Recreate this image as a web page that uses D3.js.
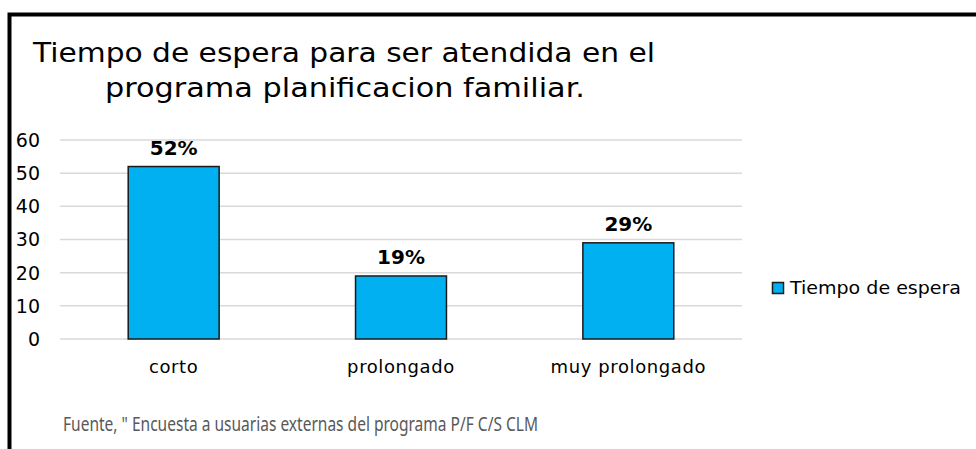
<!DOCTYPE html>
<html>
<head>
<meta charset="utf-8">
<script src="https://cdn.jsdelivr.net/npm/d3@7"></script>
<style>
  html, body { margin: 0; padding: 0; background: #fff; }
  svg { display: block; font-family: "Century Gothic", "DejaVu Sans", sans-serif; }
</style>
</head>
<body>
<div id="chart"></div>
<script>
// datos
const categorias = ["corto", "prolongado", "muy prolongado"]
const valores = [52, 19, 29]
const etiquetas = ["52%", "19%", "29%"]
const ticksY = [0, 10, 20, 30, 40, 50, 60]
const serie = "Tiempo de espera"
const titulo = ["Tiempo de espera para ser atendida en el", "programa planificacion familiar."]
const fuente = "Fuente, \" Encuesta a usuarias externas del programa P/F C/S CLM"

let width = 976, height = 449
let plot = { left: 60, right: 742, top: 140, bottom: 339 }

let svg = d3.select("#chart")
    .append("svg")
    .attr("width", width)
    .attr("height", height)

//marco negro (solo arriba e izquierda)
svg.append("path")
    .attr("d", "M9.5,449 L9.5,14.5 L976,14.5")
    .attr("fill", "none")
    .attr("stroke", "#000")
    .attr("stroke-width", 4)

//titulo
svg.append("text")
    .attr("x", 33)
    .attr("y", 62)
    .attr("font-size", 26)
    .attr("textLength", 622)
    .attr("lengthAdjust", "spacingAndGlyphs")
    .attr("fill", "#000")
    .text(titulo[0])
svg.append("text")
    .attr("x", 105)
    .attr("y", 97)
    .attr("font-size", 26)
    .attr("textLength", 480)
    .attr("lengthAdjust", "spacingAndGlyphs")
    .attr("fill", "#000")
    .text(titulo[1])

let x = d3.scaleBand()
    .domain(categorias)
    .range([plot.left, plot.right])
    .paddingInner(0.6)
    .paddingOuter(0.3)

let y = d3.scaleLinear()
    .domain([0, 60])
    .range([plot.bottom, plot.top])

//lineas de cuadricula
svg.selectAll(".grid")
    .data(ticksY)
    .enter()
    .append("line")
    .attr("class", "grid")
    .attr("x1", plot.left)
    .attr("x2", plot.right)
    .attr("y1", d => y(d))
    .attr("y2", d => y(d))
    .attr("stroke", "#d9d9d9")
    .attr("stroke-width", 1.5)

//etiquetas eje y
svg.selectAll(".ytick")
    .data(ticksY)
    .enter()
    .append("text")
    .attr("class", "ytick")
    .attr("x", 40)
    .attr("y", d => y(d))
    .attr("dy", "0.36em")
    .attr("text-anchor", "end")
    .attr("font-size", 19)
    .attr("fill", "#000")
    .text(d => d)

//barras
svg.selectAll(".bar")
    .data(valores)
    .enter()
    .append("rect")
    .attr("class", "bar")
    .attr("x", (d, i) => x(categorias[i]))
    .attr("y", d => y(d))
    .attr("width", x.bandwidth())
    .attr("height", d => y(0) - y(d))
    .attr("fill", "#00B0F0")
    .attr("stroke", "#1a1a1a")
    .attr("stroke-width", 1.5)

//etiquetas de datos
svg.selectAll(".lbl")
    .data(valores)
    .enter()
    .append("text")
    .attr("class", "lbl")
    .attr("x", (d, i) => x(categorias[i]) + x.bandwidth() / 2)
    .attr("y", d => y(d) - 12)
    .attr("text-anchor", "middle")
    .attr("font-size", 20)
    .attr("font-weight", "bold")
    .attr("fill", "#000")
    .text((d, i) => etiquetas[i])

//etiquetas eje x
svg.selectAll(".xtick")
    .data(categorias)
    .enter()
    .append("text")
    .attr("class", "xtick")
    .attr("x", d => x(d) + x.bandwidth() / 2)
    .attr("y", 373)
    .attr("text-anchor", "middle")
    .attr("font-size", 18)
    .attr("letter-spacing", 0.6)
    .attr("fill", "#000")
    .text(d => d)

//leyenda
svg.append("rect")
    .attr("x", 772.5)
    .attr("y", 282.5)
    .attr("width", 11)
    .attr("height", 11)
    .attr("fill", "#00B0F0")
    .attr("stroke", "#1a1a1a")
    .attr("stroke-width", 1.5)
svg.append("text")
    .attr("x", 790)
    .attr("y", 294)
    .attr("font-size", 17)
    .attr("textLength", 171)
    .attr("lengthAdjust", "spacingAndGlyphs")
    .attr("fill", "#000")
    .text(serie)

//fuente
svg.append("text")
    .attr("x", 63)
    .attr("y", 431)
    .attr("font-family", "'Liberation Sans Narrow', 'Noto Sans', sans-serif")
    .attr("font-size", 19)
    .attr("textLength", 475)
    .attr("lengthAdjust", "spacingAndGlyphs")
    .attr("fill", "#595959")
    .text(fuente)
</script>
</body>
</html>
